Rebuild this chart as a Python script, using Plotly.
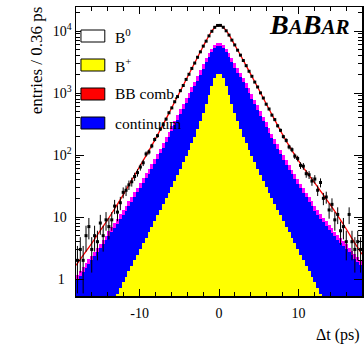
import numpy as np
import plotly.graph_objects as go

# ---- binning: 100 bins of 0.36 ps between -18 and 18 ps
bin_width = 0.36
dt_centers = [round(-17.82 + bin_width * i, 2) for i in range(100)]

# ---- data (entries per bin)
data_counts = [
    2, 3, 2, 5, 7, 3, 5, 4, 8, 5,
    9, 7, 9, 15, 12, 17, 25, 27, 33, 37,
    45, 52, 64, 75, 104, 112, 140, 178, 205, 262,
    308, 379, 480, 575, 722, 875, 1090, 1320, 1655, 2005,
    2490, 3040, 3770, 4610, 5700, 6850, 8340, 9890, 11460, 12280,
    12310, 11490, 10070, 8590, 7120, 5960, 4900, 4080, 3340, 2760,
    2240, 1860, 1500, 1250, 1005, 830, 660, 552, 440, 372,
    296, 250, 198, 172, 135, 122, 96, 88, 68, 66,
    50, 48, 38, 41, 27, 36, 20, 21, 13, 16,
    9, 11, 6, 7, 4, 11, 4, 3, 4, 3,
]

# ---- stacked components (cumulative, as drawn)
bbcomb_stack = [
    1.18, 1.36, 1.56, 1.80, 2.07, 2.38, 2.76, 3.21, 3.72, 4.32,
    5.01, 5.84, 6.84, 8.00, 9.38, 11.0, 12.9, 15.1, 17.9, 21.1,
    25.1, 29.9, 35.6, 42.4, 50.4, 60.0, 71.3, 84.9, 104, 127,
    157, 193, 237, 292, 359, 442, 543, 668, 822, 1012,
    1245, 1531, 1897, 2355, 2917, 3622, 4395, 5200, 5943, 6295,
    6295, 5943, 5200, 4446, 3724, 3055, 2541, 2118, 1762, 1442,
    1183, 966, 785, 638, 516, 416, 336, 272, 221, 180,
    148, 121, 99.5, 83.0, 69.2, 57.8, 48.6, 40.8, 34.5, 29.2,
    24.8, 21.0, 17.8, 15.1, 13.0, 11.2, 9.72, 8.51, 7.45, 6.56,
    5.79, 5.12, 4.55, 4.06, 3.61, 3.21, 2.86, 2.55, 2.27, 2.02,
]
continuum_stack = [
    0.98, 1.13, 1.30, 1.50, 1.73, 1.99, 2.31, 2.68, 3.11, 3.61,
    4.19, 4.88, 5.71, 6.68, 7.83, 9.18, 10.8, 12.6, 14.9, 17.6,
    21.0, 25.0, 29.7, 35.4, 42.1, 50.1, 59.5, 70.9, 86.8, 106,
    131, 161, 198, 244, 300, 369, 453, 558, 686, 845,
    1040, 1279, 1584, 1967, 2436, 3133, 3868, 4628, 5408, 5790,
    5790, 5408, 4628, 3868, 3128, 2566, 2134, 1779, 1480, 1211,
    994, 811, 659, 536, 433, 349, 282, 228, 186, 151,
    124, 102, 83.6, 69.7, 58.1, 48.6, 40.8, 34.3, 29.0, 24.5,
    20.8, 17.6, 14.9, 12.7, 10.9, 9.41, 8.16, 7.15, 6.26, 5.51,
    4.86, 4.30, 3.82, 3.41, 3.03, 2.70, 2.40, 2.14, 1.91, 1.70,
]
bplus_stack = [
    0, 0, 0, 0, 0, 0, 0, 0, 0, 0,
    0, 0, 0, 0, 0.58, 0.72, 0.88, 1.08, 1.33, 1.64,
    2.02, 2.48, 3.05, 3.76, 4.62, 5.69, 7.00, 8.61, 10.6, 13.0,
    16.0, 19.9, 24.7, 30.6, 38.3, 48.0, 60.1, 75.9, 95.7, 121,
    154, 196, 258, 348, 476, 664, 935, 1300, 1722, 2032,
    2032, 1722, 1300, 935, 664, 476, 348, 258, 196, 154,
    121, 95.7, 75.9, 60.1, 48.0, 38.3, 30.6, 24.7, 19.9, 16.0,
    13.0, 10.6, 8.61, 7.00, 5.69, 4.62, 3.76, 3.05, 2.48, 2.02,
    1.64, 1.33, 1.08, 0.88, 0.72, 0.58, 0, 0, 0, 0,
    0, 0, 0, 0, 0, 0, 0, 0, 0, 0,
]

# ---- fit curve
fit_dt = [-18, -17, -16, -15, -14, -13, -12, -11, -10, -9, -8, -7, -6, -5, -4,
          -3, -2, -1, -0.5, 0, 0.5, 1, 2, 3, 4, 5, 6, 7, 8, 9, 10, 11, 12,
          13, 14, 15, 16, 17, 18]
fit_val = [1.66, 2.51, 3.80, 5.89, 9.12, 14.5, 23.4, 38.9, 64.6, 107, 182,
           316, 562, 1000, 1778, 3162, 5623, 9550, 11482, 12589, 11482, 9772,
           5888, 3467, 1995, 1148, 646, 372, 214, 129, 81.3, 53.7, 36.3, 24.0,
           15.8, 10.2, 6.46, 3.98, 2.51]

# ---- axis ticks
y_major = [1, 10, 100, 1000, 10000]
y_major_text = ["1<span style='color:white'>0</span>",
                "10<sup><span style='color:white'>2</span></sup>",
                "10<sup>2</sup>", "10<sup>3</sup>", "10<sup>4</sup>"]
y_minor = [m * d for d in (1, 10, 100, 1000, 10000) for m in range(2, 10)]
x_major = [-10, 0, 10]
x_major_text = ["-10", "0", "10"]

legend_labels = ["B<sup>0</sup>", "B<sup>+</sup>", "BB comb.", "continuum"]
legend_fill = ["white", "#ffff00", "#ff0000", "#0000ff"]

SERIF = "Liberation Serif"

fig = go.Figure()
for vals, col in [(bbcomb_stack, "#ff00ff"), (continuum_stack, "#0000ff"),
                  (bplus_stack, "#ffff00")]:
    fig.add_trace(go.Bar(x=dt_centers, y=vals, width=bin_width,
                         marker=dict(color=col, line=dict(width=0)),
                         showlegend=False, hoverinfo="skip"))

fig.add_trace(go.Scatter(x=fit_dt, y=fit_val, mode="lines",
                         line=dict(color="#ff0000", width=1.3, shape="spline"),
                         showlegend=False, hoverinfo="skip"))

errs = np.sqrt(np.array(data_counts, dtype=float))
fig.add_trace(go.Scatter(x=dt_centers, y=data_counts, mode="markers",
                         marker=dict(color="black", size=3, symbol="square"),
                         error_y=dict(type="data", array=errs, arrayminus=errs,
                                      color="black", thickness=1, width=0),
                         showlegend=False, hoverinfo="skip"))

W, H = 364, 344
L, R, T, B = 76, 0, 7, 48
pw, ph = W - L - R, H - T - B


def px(xp):
    return (xp - L) / pw


def py(yp):
    return (H - B - yp) / ph


# legend boxes and texts
box_tops = [30, 59, 88, 117]
for top, lab, fc in zip(box_tops, legend_labels, legend_fill):
    fig.add_shape(type="rect", xref="paper", yref="paper",
                  x0=px(81), x1=px(105), y0=py(top + 12), y1=py(top),
                  fillcolor=fc, line=dict(color="black", width=1))
    fig.add_annotation(xref="paper", yref="paper", x=px(113), y=py(top + 6),
                       text=lab, showarrow=False, xanchor="left",
                       yanchor="middle",
                       font=dict(family=SERIF, size=15.5, color="black"))

# BaBar logo
fig.add_annotation(xref="paper", yref="paper", x=px(353), y=py(25),
                   text="<b><i>B<span style='font-size:21px'>A</span>B"
                        "<span style='font-size:21px'>AR</span></i></b>",
                   showarrow=False, xanchor="right", yanchor="middle",
                   font=dict(family=SERIF, size=28, color="black"))

# axis titles
fig.add_annotation(xref="paper", yref="paper", x=px(36), y=py(4),
                   text="entries / 0.36 ps", textangle=-90, showarrow=False,
                   xanchor="center", yanchor="top",
                   font=dict(family=SERIF, size=17, color="black"))
fig.add_annotation(xref="paper", yref="paper", x=px(364), y=py(335),
                   text="\u0394t (ps)", showarrow=False,
                   xanchor="right", yanchor="middle",
                   font=dict(family=SERIF, size=16, color="black"))

fig.update_layout(
    width=W, height=H, autosize=False,
    margin=dict(l=L, r=R, t=T, b=B, pad=0),
    paper_bgcolor="white", plot_bgcolor="white",
    barmode="overlay", bargap=0,
    showlegend=False,
    font=dict(family=SERIF, size=14, color="black"),
)
fig.update_xaxes(range=[-18, 18], showgrid=False, zeroline=False,
                 showline=True, linecolor="black", linewidth=1.5,
                 mirror="ticks", ticks="inside", ticklen=7, tickwidth=1,
                 tickcolor="black", tickmode="array", tickvals=x_major,
                 ticktext=x_major_text, tickfont=dict(family=SERIF, size=14),
                 ticklabelstandoff=4,
                 minor=dict(ticks="inside", ticklen=4, dtick=2, tick0=0,
                            tickcolor="black", showgrid=False))
fig.update_yaxes(type="log", range=[-0.274, 4.387], showgrid=False,
                 zeroline=False, showline=True, linecolor="black",
                 linewidth=1.5, mirror="ticks", ticks="inside", ticklen=8,
                 tickwidth=1, tickcolor="black", tickmode="array",
                 tickvals=y_major, ticktext=y_major_text,
                 tickfont=dict(family=SERIF, size=14),
                 minor=dict(ticks="inside", ticklen=4, tickmode="array",
                            tickvals=y_minor, tickcolor="black",
                            showgrid=False))

fig.write_html("out.html",
               config={"displayModeBar": False, "staticPlot": True},
               post_script="document.body.style.margin='0px';"
                           "document.body.style.overflow='hidden';")
